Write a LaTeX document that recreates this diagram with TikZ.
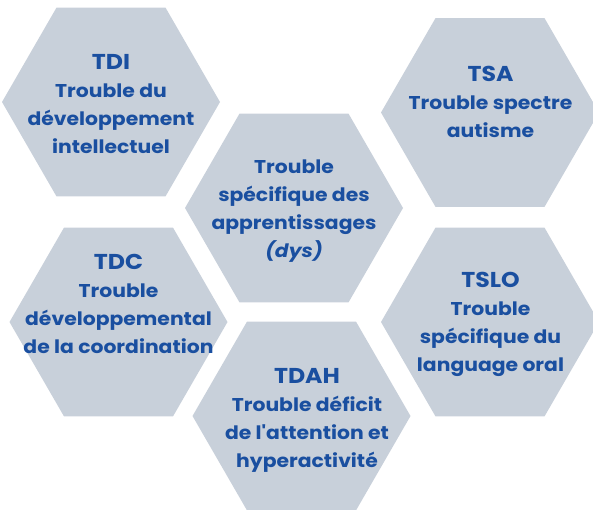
\documentclass[tikz,border=0pt]{standalone}
\usepackage{fontspec}
\setmainfont{Poppins}[FakeStretch=1.1, Ligatures=TeXOff]
\usetikzlibrary{shapes.geometric}
\definecolor{hexfill}{HTML}{C8D0DA}
\definecolor{txtblue}{HTML}{1A4FA0}
\tikzset{
  hexa/.style={regular polygon, regular polygon sides=6, minimum size=218pt,
    inner sep=0pt, outer sep=0pt, fill=hexfill, draw=none},
  lbl/.style={align=center, text=txtblue, font=\bfseries\fontsize{18.5}{28}\selectfont,
    anchor=base, inner sep=0pt},
}
\newcommand{\hxtitle}[1]{{\fontsize{21.5}{28}\selectfont #1}}
\begin{document}
\begin{tikzpicture}[x=1pt,y=-1pt]
\useasboundingbox (0,0) rectangle (593,509);
\clip (0,0) rectangle (593,509);
\node[hexa] (tdi)  at (111,102) {};
\node[hexa] (dys)  at (294,208) {};
\node[hexa] (tsa)  at (490,112.5) {};
\node[hexa] (tdc)  at (118.5,322) {};
\node[hexa] (tdah) at (301.5,416) {};
\node[hexa] (tslo) at (490,322) {};
\node[lbl] (tdi-t)  at (111,153) {\hxtitle{TDI}\\Trouble du\\développement\\intellectuel};
\node[lbl] (dys-t)  at (294,257) {Trouble\\spécifique des\\apprentissages\\\textit{(dys)}};
\node[lbl] (tsa-t)  at (490.5,137) {\hxtitle{TSA}\\Trouble spectre\\autisme};
\node[lbl] (tdc-t)  at (118.5,353) {\hxtitle{TDC}\\Trouble\\développemental\\de la coordination};
\node[lbl] (tdah-t) at (307,467) {\hxtitle{TDAH}\\Trouble déficit\\de l'attention et\\hyperactivité};
\node[lbl] (tslo-t) at (490.5,371) {\hxtitle{TSLO}\\Trouble\\spécifique du\\language oral};
\end{tikzpicture}
\end{document}
